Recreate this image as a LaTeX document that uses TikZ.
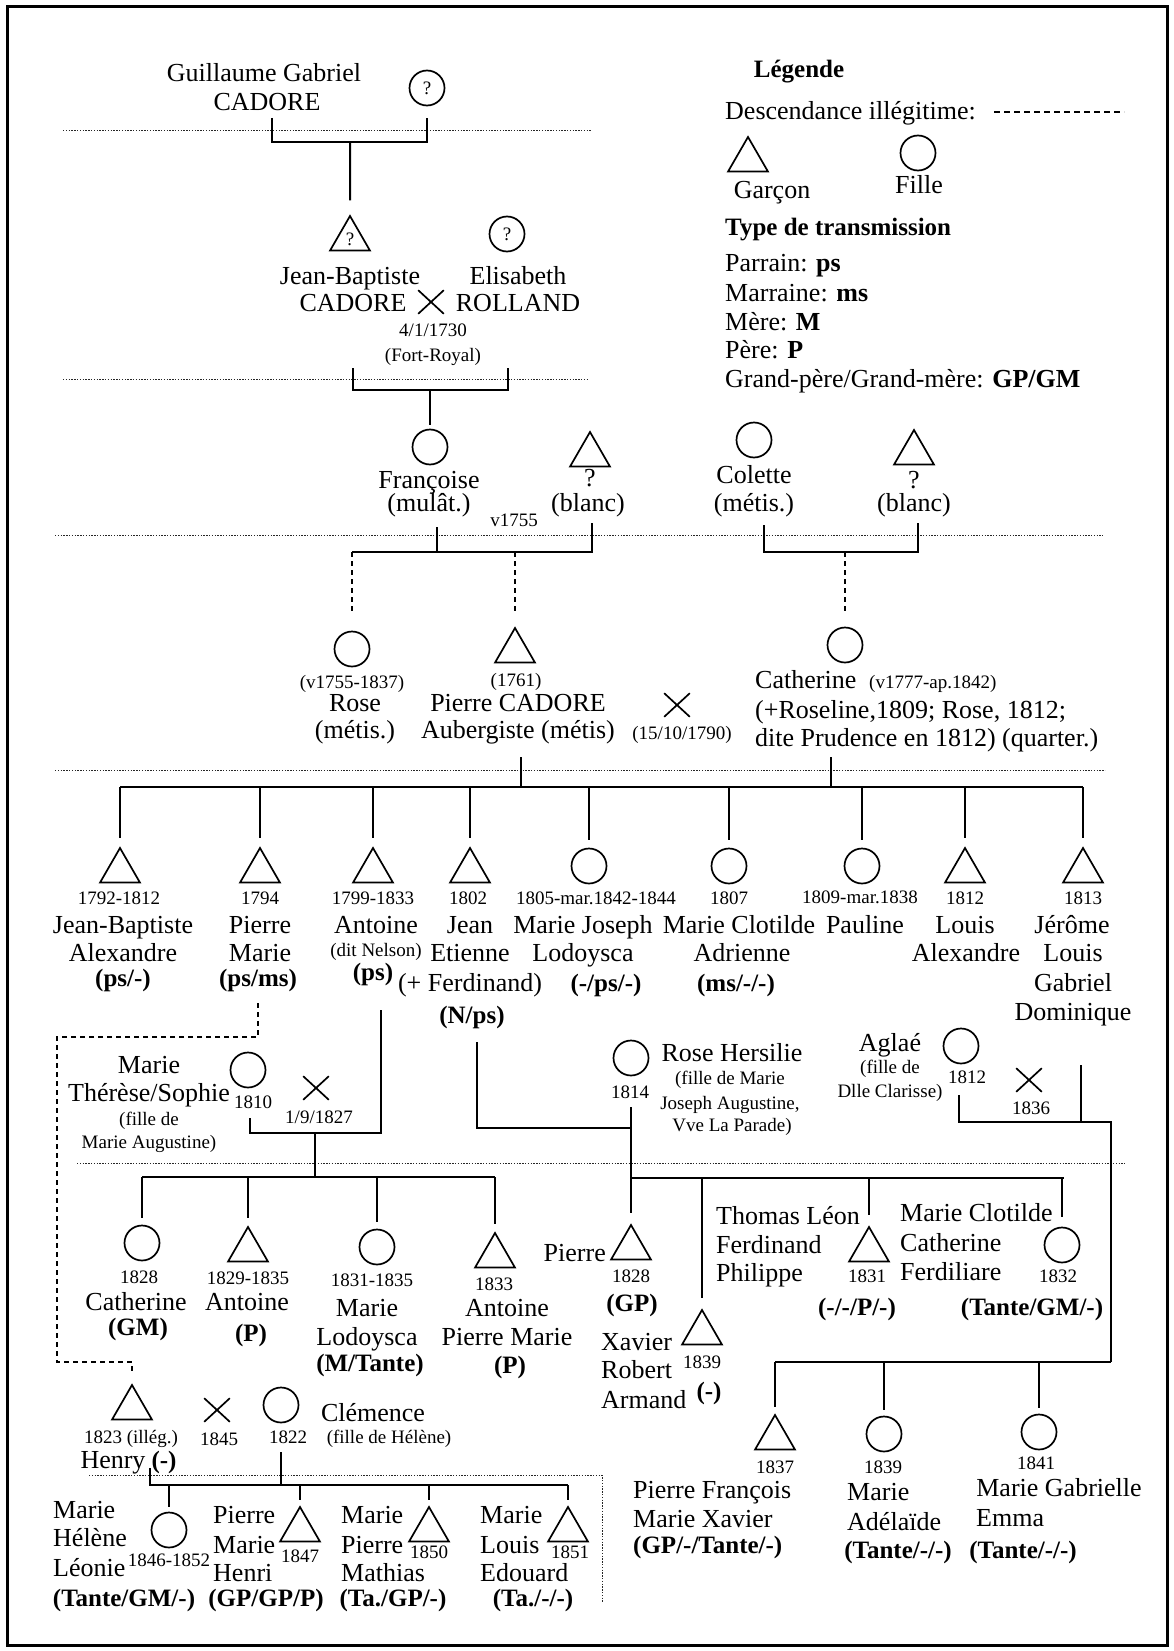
\documentclass[tikz,border=0pt]{standalone}
\usepackage{fontspec}
\setmainfont{Liberation Serif}
\usetikzlibrary{shapes.geometric,shapes.misc}
\newcommand\fnm{\fontsize{26}{28}\selectfont}
\newcommand\fsm{\fontsize{19}{21}\selectfont}
\newcommand\fbd{\fontsize{25}{27}\selectfont\bfseries}
\newcounter{tn}
\newcommand\Tx[3][]{\stepcounter{tn}\node[txt,#1] (t\arabic{tn}) at (#2) {#3};}
\begin{document}
\begin{tikzpicture}[x=1pt,y=-1pt,
  txt/.style={anchor=base,inner sep=0pt,font=\fnm},
  sm/.style={font=\fsm},
  bd/.style={font=\fbd},
  L/.style={anchor=base west},
  R/.style={anchor=base east},
  fem/.style={draw,circle,minimum size=35pt,inner sep=0pt,line width=1.7pt},
  male/.style={draw,regular polygon,regular polygon sides=3,minimum size=46pt,inner sep=0pt,line width=1.7pt},
  mar/.style={cross out,draw,minimum width=24pt,minimum height=22pt,inner sep=0pt,line width=1.7pt},
  ln/.style={line width=2pt},
  ill/.style={line width=2pt,dash pattern=on 5pt off 4pt},
  gen/.style={line width=0.9pt,dash pattern=on 1.4pt off 1.4pt,black!85}]
\useasboundingbox (0,0) rectangle (1173,1651);
\draw[line width=3pt] (7,7) rectangle (1167,1645);

% ---------- Legend ----------
\Tx[bd]{799,78}{Légende}
\Tx[L]{725,120}{Descendance illégitime:}
\coordinate (lg1) at (994,112); \coordinate (lg2) at (1124,112);
\draw[line width=1.6pt,dash pattern=on 6pt off 4pt] (lg1) -- (lg2);
\node[male] (lgm) at (748,160) {};
\node[fem] (lgf) at (918,153) {};
\Tx{772,198}{Garçon}
\Tx{919,193}{Fille}
\Tx[bd,L]{725,235}{Type de transmission}
\Tx[L]{725,271}{Parrain: \textbf{ps}}
\Tx[L]{725,301}{Marraine: \textbf{ms}}
\Tx[L]{725,330}{Mère: \textbf{M}}
\Tx[L]{725,358}{Père: \textbf{P}}
\Tx[L]{725,387}{Grand-père/Grand-mère: \textbf{GP/GM}}

% ---------- Generation 0 ----------
\Tx{264,82}{Guillaume Gabriel}
\Tx{267,111}{CADORE}
\node[fem] (gq) at (427,88) {\fsm ?};
\draw[gen] (63,130) -- (591,130);
\coordinate (b1a) at (272,118); \coordinate (b1d) at (427,118); \coordinate (b1m) at (350,142);
\draw[ln] (b1a) -- (272,142) -- (427,142) -- (b1d);
\node[male] (jb) at (350,239) {\fsm ?};
\draw[ln,shorten >=14pt] (b1m) -- (jb.north);

% ---------- Generation 1 ----------
\node[fem] (er) at (507,234) {\fsm ?};
\Tx{350,284}{Jean-Baptiste}
\Tx{353,311}{CADORE}
\node[mar] (m1) at (431,302) {};
\Tx{518,284}{Elisabeth}
\Tx{518,311}{ROLLAND}
\Tx[sm]{433,336}{4/1/1730}
\Tx[sm]{433,361}{(Fort-Royal)}
\draw[gen] (63,379) -- (587,379);
\coordinate (b2a) at (353,368); \coordinate (b2d) at (508,368); \coordinate (b2m) at (430,390);
\draw[ln] (b2a) -- (353,390) -- (508,390) -- (b2d);

% ---------- Generation 2 ----------
\node[fem] (fr) at (430,447) {};
\draw[ln,shorten >=4pt] (b2m) -- (fr.north);
\Tx{429,488}{Françoise}
\Tx{429,511}{(mulât.)}
\node[male] (bl1) at (590,455) {};
\Tx{590,486}{?}
\Tx{588,511}{(blanc)}
\Tx[sm]{514,526}{v1755}
\node[fem] (co) at (754,440) {};
\Tx{754,483}{Colette}
\Tx{754,511}{(métis.)}
\node[male] (bl2) at (914,453) {};
\Tx{914,488}{?}
\Tx{914,511}{(blanc)}
\draw[gen] (55,535) -- (1103,535);
\coordinate (f3a) at (437,527); \coordinate (f3b) at (437,552);
\coordinate (c3l) at (352,552); \coordinate (c3t) at (592,523);
\draw[ln] (f3a) -- (f3b);
\draw[ln] (c3l) -- (592,552) -- (c3t);
\coordinate (ro0) at (352,552); \coordinate (pc0) at (515,552);
\coordinate (co1) at (764,525); \coordinate (co2) at (918,523); \coordinate (ca0) at (845,552);
\draw[ln] (co1) -- (764,552) -- (918,552) -- (co2);

% ---------- Generation 3 ----------
\node[fem] (ro) at (352,649) {};
\node[male] (pc) at (515,651) {};
\node[fem] (ca) at (845,645) {};
\draw[ill,shorten >=18pt] (ro0) -- (ro.north);
\draw[ill,shorten >=15pt] (pc0) -- (pc.north);
\draw[ill,shorten >=14pt] (ca0) -- (ca.north);
\Tx[sm]{352,688}{(v1755-1837)}
\Tx{355,711}{Rose}
\Tx{355,738}{(métis.)}
\Tx[sm]{516,686}{(1761)}
\Tx{518,711}{Pierre CADORE}
\Tx{518,738}{Aubergiste (métis)}
\node[mar] (m2) at (677,705) {};
\Tx[sm]{682,739}{(15/10/1790)}
\Tx[L]{755,688}{Catherine}
\Tx[sm,L]{869,688}{(v1777-ap.1842)}
\Tx[L]{755,718}{(+Roseline,1809; Rose, 1812;}
\Tx[L]{755,746}{dite Prudence en 1812) (quarter.)}
\draw[gen] (55,770) -- (1105,770);
\coordinate (p4a) at (521,757); \coordinate (p4b) at (521,787);
\coordinate (c4a) at (831,757); \coordinate (c4b) at (831,787);
\draw[ln] (p4a) -- (p4b);
\draw[ln] (c4a) -- (c4b);
\coordinate (h4l) at (120,787); \coordinate (h4r) at (1083,787);
\draw[ln] (h4l) -- (h4r);

% ---------- Generation 4 (children of Pierre & Catherine) ----------
\node[male] (k1) at (120,871) {};
\node[male] (k2) at (260,871) {};
\node[male] (k3) at (373,871) {};
\node[male] (k4) at (470,871) {};
\node[fem]  (k5) at (589,866) {};
\node[fem]  (k6) at (729,866) {};
\node[fem]  (k7) at (862,866) {};
\node[male] (k8) at (965,871) {};
\node[male] (k9) at (1083,871) {};
\foreach \k/\x in {k1/120,k2/260,k3/373,k4/470,k5/589,k6/729,k7/862,k8/965,k9/1083}{
  \coordinate (\k top) at (\x,787);
  \draw[ln,shorten >=8pt] (\k top) -- (\k.north);
}
\Tx[sm]{119,904}{1792-1812}
\Tx{123,933}{Jean-Baptiste}
\Tx{123,961}{Alexandre}
\Tx[bd]{123,986}{(ps/-)}
\Tx[sm]{260,904}{1794}
\Tx{260,933}{Pierre}
\Tx{260,961}{Marie}
\Tx[bd]{258,986}{(ps/ms)}
\Tx[sm]{373,904}{1799-1833}
\Tx{376,933}{Antoine}
\Tx[sm]{376,956}{(dit Nelson)}
\Tx[bd]{373,980}{(ps)}
\Tx[sm]{468,904}{1802}
\Tx{470,933}{Jean}
\Tx{470,961}{Etienne}
\Tx{470,991}{(+ Ferdinand)}
\Tx[bd]{472,1023}{(N/ps)}
\Tx[sm]{596,904}{1805-mar.1842-1844}
\Tx{583,933}{Marie Joseph}
\Tx{583,961}{Lodoysca}
\Tx[bd]{606,991}{(-/ps/-)}
\Tx[sm]{729,904}{1807}
\Tx{739,933}{Marie Clotilde}
\Tx{742,961}{Adrienne}
\Tx[bd]{736,991}{(ms/-/-)}
\Tx[sm]{860,903}{1809-mar.1838}
\Tx{865,933}{Pauline}
\Tx[sm]{965,904}{1812}
\Tx{965,933}{Louis}
\Tx{966,961}{Alexandre}
\Tx[sm]{1083,904}{1813}
\Tx{1072,933}{Jérôme}
\Tx{1073,961}{Louis}
\Tx{1073,991}{Gabriel}
\Tx{1073,1020}{Dominique}

% ---------- Marriages of generation 4 ----------
% Pierre Marie -> Henry (illegitimate)
\node[male] (he) at (132,1408) {};
\coordinate (d1) at (258,1003);
\draw[ill,shorten >=10pt] (d1) -- (258,1037) -- (57,1037) -- (57,1362) -- (132,1362) -- (he.north);

% Antoine x Marie Therese/Sophie
\Tx{149,1073}{Marie}
\Tx{149,1101}{Thérèse/Sophie}
\node[fem] (mt) at (248,1070) {};
\Tx[sm]{253,1108}{1810}
\Tx[sm]{149,1125}{(fille de}
\Tx[sm]{149,1148}{Marie Augustine)}
\node[mar] (m3) at (316,1088) {};
\Tx[sm]{319,1123}{1/9/1827}
\coordinate (an1) at (381,1010); \coordinate (mt1) at (250,1118);
\coordinate (m3c) at (315,1133);
\draw[ln] (an1) -- (381,1133) -- (250,1133) -- (mt1);
\draw[gen] (77,1163) -- (1125,1163);
\coordinate (h5l) at (142,1177); \coordinate (h5r) at (495,1177);
\draw[ln] (m3c) -- (315,1177);
\draw[ln] (h5l) -- (h5r);
\node[fem]  (g1) at (142,1243) {};
\node[male] (g2) at (248,1250) {};
\node[fem]  (g3) at (377,1247) {};
\node[male] (g4) at (495,1256) {};
\foreach \g/\x in {g1/142,g2/248,g3/377,g4/495}{
  \coordinate (\g top) at (\x,1177);
  \draw[ln,shorten >=7pt] (\g top) -- (\g.north);
}
\Tx[sm]{139,1283}{1828}
\Tx{136,1310}{Catherine}
\Tx[bd]{138,1335}{(GM)}
\Tx[sm]{248,1284}{1829-1835}
\Tx{247,1310}{Antoine}
\Tx[bd]{251,1341}{(P)}
\Tx[sm]{372,1286}{1831-1835}
\Tx{367,1316}{Marie}
\Tx{367,1345}{Lodoysca}
\Tx[bd]{370,1371}{(M/Tante)}
\Tx[sm]{494,1290}{1833}
\Tx{507,1316}{Antoine}
\Tx{507,1345}{Pierre Marie}
\Tx[bd]{510,1373}{(P)}

% Jean Etienne x Rose Hersilie
\node[fem] (rh) at (631,1058) {};
\Tx[sm]{630,1098}{1814}
\Tx{732,1061}{Rose Hersilie}
\Tx[sm]{730,1084}{(fille de Marie}
\Tx[sm]{730,1109}{Joseph Augustine,}
\Tx[sm]{732,1131}{Vve La Parade)}
\coordinate (je1) at (477,1042); \coordinate (je2) at (631,1128);
\draw[ln] (je1) -- (477,1128) -- (je2);
\coordinate (rh1) at (631,1107);
\node[male] (r1) at (631,1248) {};
\draw[ln,shorten >=10pt] (rh1) -- (r1.north);
\coordinate (h6l) at (631,1178); \coordinate (h6r) at (1064,1178);
\draw[ln] (h6l) -- (h6r);
\node[male] (r2) at (702,1333) {};
\node[male] (r3) at (869,1250) {};
\node[fem]  (r4) at (1062,1245) {};
\coordinate (r2top) at (702,1178); \coordinate (r3top) at (869,1178); \coordinate (r4top) at (1062,1178);
\draw[ln,shorten >=10pt] (r2top) -- (r2.north);
\draw[ln,shorten >=10pt] (r3top) -- (r3.north);
\draw[ln,shorten >=10pt] (r4top) -- (r4.north);
\Tx[R]{606,1261}{Pierre}
\Tx[sm]{631,1282}{1828}
\Tx[bd]{632,1311}{(GP)}
\Tx[L]{601,1350}{Xavier}
\Tx[L]{601,1378}{Robert}
\Tx[L]{601,1408}{Armand}
\Tx[bd]{709,1399}{(-)}
\Tx[sm]{702,1368}{1839}
\Tx[L]{716,1224}{Thomas Léon}
\Tx[L]{716,1253}{Ferdinand}
\Tx[L]{716,1281}{Philippe}
\Tx[sm]{867,1282}{1831}
\Tx[bd]{857,1315}{(-/-/P/-)}
\Tx[L]{900,1221}{Marie Clotilde}
\Tx[L]{900,1251}{Catherine}
\Tx[L]{900,1280}{Ferdiliare}
\Tx[sm]{1058,1282}{1832}
\Tx[bd]{1032,1315}{(Tante/GM/-)}

% Jerome x Aglae
\Tx{890,1051}{Aglaé}
\Tx[sm]{890,1073}{(fille de}
\Tx[sm]{890,1097}{Dlle Clarisse)}
\node[fem] (ag) at (961,1046) {};
\Tx[sm]{967,1083}{1812}
\node[mar] (m4) at (1029,1080) {};
\Tx[sm]{1031,1114}{1836}
\coordinate (ag1) at (959,1095); \coordinate (jr1) at (1081,1065);
\coordinate (jr2) at (1081,1122); \coordinate (rv1) at (1111,1122); \coordinate (rv2) at (1111,1362);
\draw[ln] (ag1) -- (959,1122) -- (rv1) -- (rv2);
\draw[ln] (jr1) -- (jr2);
\coordinate (h7l) at (775,1362);
\draw[ln] (h7l) -- (rv2);
\node[male] (a1) at (775,1438) {};
\node[fem]  (a2) at (884,1434) {};
\node[fem]  (a3) at (1039,1432) {};
\foreach \a/\x in {a1/775,a2/884,a3/1039}{
  \coordinate (\a top) at (\x,1362);
  \draw[ln,shorten >=6pt] (\a top) -- (\a.north);
}
\Tx[sm]{775,1473}{1837}
\Tx[L]{633,1498}{Pierre François}
\Tx[L]{633,1527}{Marie Xavier}
\Tx[bd,L]{633,1553}{(GP/-/Tante/-)}
\Tx[sm]{883,1473}{1839}
\Tx[L]{847,1500}{Marie}
\Tx[L]{847,1530}{Adélaïde}
\Tx[bd]{898,1558}{(Tante/-/-)}
\Tx[sm]{1036,1469}{1841}
\Tx{1059,1496}{Marie Gabrielle}
\Tx[L]{976,1526}{Emma}
\Tx[bd]{1023,1558}{(Tante/-/-)}

% ---------- Henry x Clemence ----------
\node[mar] (m5) at (217,1410) {};
\node[fem] (cl) at (281,1405) {};
\Tx{373,1421}{Clémence}
\Tx[sm]{389,1443}{(fille de Hélène)}
\Tx[sm]{131,1443}{1823 (illég.)}
\Tx[sm]{219,1445}{1845}
\Tx[sm]{288,1443}{1822}
\Tx{113,1468}{Henry}
\Tx[bd]{164,1468}{(-)}
\draw[gen] (89,1475) -- (602,1475) -- (602,1603);
\coordinate (hy1) at (150,1468); \coordinate (cl1) at (281,1452);
\coordinate (h8l) at (150,1485); \coordinate (h8r) at (568,1485);
\draw[ln] (hy1) -- (h8l) -- (h8r);
\draw[ln] (cl1) -- (281,1485);
\node[fem]  (e1) at (169,1530) {};
\node[male] (e2) at (300,1530) {};
\node[male] (e3) at (429,1530) {};
\node[male] (e4) at (568,1530) {};
\foreach \e/\x in {e1/169,e2/300,e3/429,e4/568}{
  \coordinate (\e top) at (\x,1485);
  \draw[ln,shorten >=5pt] (\e top) -- (\e.north);
}
\Tx[L]{53,1518}{Marie}
\Tx[L]{53,1546}{Hélène}
\Tx[L]{53,1576}{Léonie}
\Tx[sm]{169,1566}{1846-1852}
\Tx[bd]{124,1606}{(Tante/GM/-)}
\Tx[L]{213,1523}{Pierre}
\Tx[L]{213,1553}{Marie}
\Tx[L]{213,1581}{Henri}
\Tx[sm]{300,1562}{1847}
\Tx[bd]{266,1606}{(GP/GP/P)}
\Tx[L]{341,1523}{Marie}
\Tx[L]{341,1553}{Pierre}
\Tx[L]{341,1581}{Mathias}
\Tx[sm]{429,1558}{1850}
\Tx[bd]{393,1606}{(Ta./GP/-)}
\Tx[L]{480,1523}{Marie}
\Tx[L]{480,1553}{Louis}
\Tx[L]{480,1581}{Edouard}
\Tx[sm]{570,1558}{1851}
\Tx[bd]{533,1606}{(Ta./-/-)}
\end{tikzpicture}
\end{document}
